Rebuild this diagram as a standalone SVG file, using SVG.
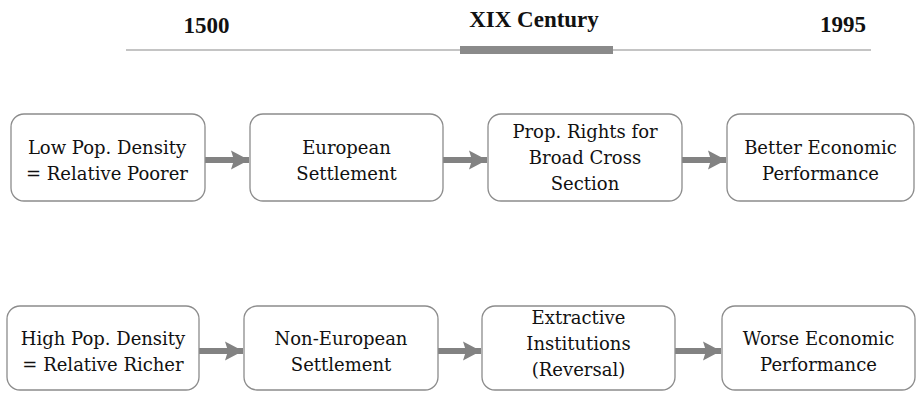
<svg xmlns="http://www.w3.org/2000/svg" width="918" height="393" viewBox="0 0 918 393">
  <style>
    .box { fill: #ffffff; stroke: #8c8c8c; stroke-width: 1.3; }
    .lbl { font-family: "DejaVu Serif", "Liberation Serif", serif; font-size: 18px; font-weight: normal; fill: #111; text-anchor: middle; }
    .hdr { font-family: "Liberation Serif", serif; font-size: 23px; font-weight: bold; fill: #111; text-anchor: middle; }
    .conn { stroke: #828282; stroke-width: 6; fill: none; }
  </style>
  <defs>
    <marker id="ah" markerUnits="userSpaceOnUse" markerWidth="19" markerHeight="20" refX="18" refY="10" orient="auto">
      <path d="M0,0.5 L18,10 L0,19.5 L3,10 Z" fill="#828282"/>
    </marker>
  </defs>

  <g id="timeline">
    <line x1="126" y1="50" x2="871" y2="50" stroke="#c4c4c4" stroke-width="2"/>
    <rect x="460" y="46" width="153" height="8" fill="#8a8a8a"/>
    <text class="hdr" x="206.5" y="33">1500</text>
    <text class="hdr" x="534" y="27">XIX Century</text>
    <text class="hdr" x="843" y="32">1995</text>
  </g>

  <g id="connectors">
    <line class="conn" x1="205" y1="160" x2="249" y2="160" marker-end="url(#ah)"/>
    <line class="conn" x1="443" y1="160" x2="487" y2="160" marker-end="url(#ah)"/>
    <line class="conn" x1="682" y1="160" x2="726" y2="160" marker-end="url(#ah)"/>
    <line class="conn" x1="199" y1="351" x2="243" y2="351" marker-end="url(#ah)"/>
    <line class="conn" x1="438" y1="351" x2="481" y2="351" marker-end="url(#ah)"/>
    <line class="conn" x1="675" y1="351" x2="721" y2="351" marker-end="url(#ah)"/>
  </g>

  <g id="n1">
    <rect class="box" x="11" y="114" width="194" height="87" rx="13"/>
    <text class="lbl" x="107" y="154">Low Pop. Density</text>
    <text class="lbl" x="107" y="180">= Relative Poorer</text>
  </g>
  <g id="n2">
    <rect class="box" x="250" y="114" width="193" height="87" rx="13"/>
    <text class="lbl" x="346.5" y="154">European</text>
    <text class="lbl" x="346.5" y="180">Settlement</text>
  </g>
  <g id="n3">
    <rect class="box" x="488" y="114" width="194" height="87" rx="13"/>
    <text class="lbl" x="585" y="138">Prop. Rights for</text>
    <text class="lbl" x="585" y="164">Broad Cross</text>
    <text class="lbl" x="585" y="190">Section</text>
  </g>
  <g id="n4">
    <rect class="box" x="727" y="114" width="187" height="87" rx="13"/>
    <text class="lbl" x="820.5" y="154">Better Economic</text>
    <text class="lbl" x="820.5" y="180">Performance</text>
  </g>

  <g id="n5">
    <rect class="box" x="7" y="306" width="192" height="84" rx="13"/>
    <text class="lbl" x="103" y="345">High Pop. Density</text>
    <text class="lbl" x="103" y="371">= Relative Richer</text>
  </g>
  <g id="n6">
    <rect class="box" x="244" y="306" width="194" height="84" rx="13"/>
    <text class="lbl" x="341" y="345">Non-European</text>
    <text class="lbl" x="341" y="371">Settlement</text>
  </g>
  <g id="n7">
    <rect class="box" x="482" y="306" width="193" height="84" rx="13"/>
    <text class="lbl" x="578.5" y="324">Extractive</text>
    <text class="lbl" x="578.5" y="350">Institutions</text>
    <text class="lbl" x="578.5" y="376">(Reversal)</text>
  </g>
  <g id="n8">
    <rect class="box" x="722" y="306" width="193" height="84" rx="13"/>
    <text class="lbl" x="818.5" y="345">Worse Economic</text>
    <text class="lbl" x="818.5" y="371">Performance</text>
  </g>
</svg>
